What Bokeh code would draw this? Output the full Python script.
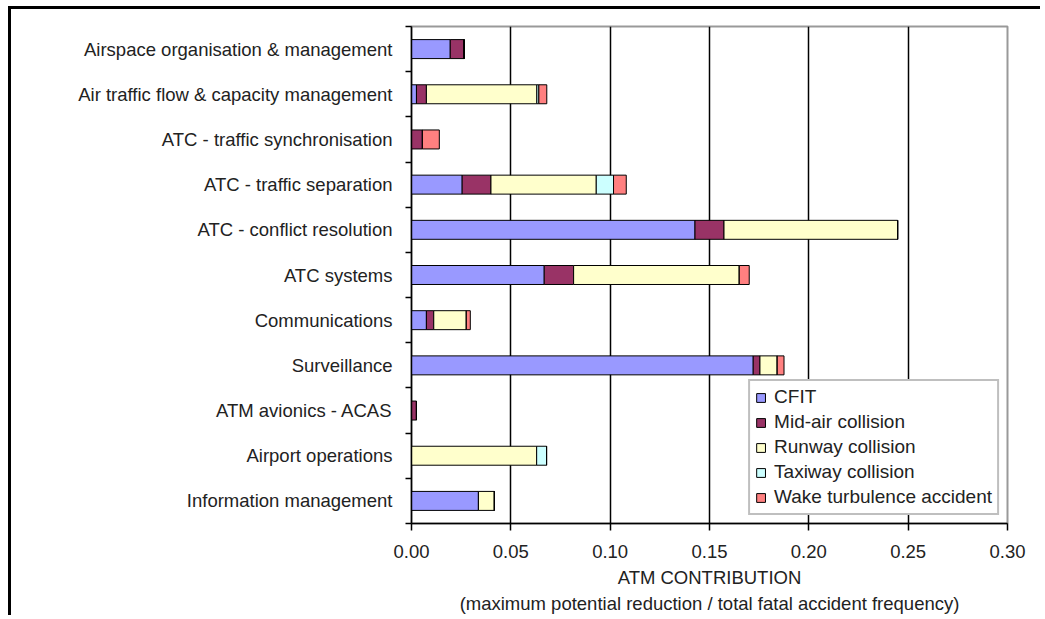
from bokeh.plotting import figure
from bokeh.models import ColumnDataSource, FixedTicker, NumeralTickFormatter, Range1d, Title
from bokeh.embed import file_html
from bokeh.resources import INLINE

categories = [
    "Airspace organisation & management",
    "Air traffic flow & capacity management",
    "ATC - traffic synchronisation",
    "ATC - traffic separation",
    "ATC - conflict resolution",
    "ATC systems",
    "Communications",
    "Surveillance",
    "ATM avionics - ACAS",
    "Airport operations",
    "Information management",
]
cfit = [0.0195, 0.0025, 0.0, 0.0255, 0.1427, 0.0668, 0.0075, 0.1720, 0.0, 0.0, 0.0337]
midair = [0.0070, 0.0050, 0.0055, 0.0145, 0.0146, 0.0148, 0.0037, 0.0034, 0.0025, 0.0, 0.0]
runway = [0.0, 0.0556, 0.0, 0.0530, 0.0874, 0.0834, 0.0164, 0.0087, 0.0, 0.0630, 0.0080]
taxiway = [0.0, 0.0010, 0.0, 0.0087, 0.0, 0.0, 0.0, 0.0, 0.0, 0.0050, 0.0]
wake = [0.0, 0.0040, 0.0085, 0.0064, 0.0, 0.0050, 0.0020, 0.0034, 0.0, 0.0, 0.0]
series = ["CFIT", "Mid-air collision", "Runway collision", "Taxiway collision", "Wake turbulence accident"]
colors = ["#9999FF", "#993366", "#FFFFCC", "#CCFFFF", "#FF8080"]
x_ticks = [0.0, 0.05, 0.10, 0.15, 0.20, 0.25, 0.30]

n = len(categories)
ypos = [n - i for i in range(n)]
source = ColumnDataSource(dict(y=ypos, CFIT=cfit, **{"Mid-air collision": midair,
                                                     "Runway collision": runway,
                                                     "Taxiway collision": taxiway,
                                                     "Wake turbulence accident": wake}))

FONT = "Liberation Sans"
FS = "18.5px"

p = figure(output_backend="svg", toolbar_location=None,
           width=1040, height=615,
           frame_width=596, frame_height=497,
           min_border_left=411, min_border_top=26, min_border_right=33, min_border_bottom=92,
           x_range=Range1d(0, 0.30), y_range=Range1d(0.5, n + 0.5))
p.border_fill_color = None
p.background_fill_color = "white"
p.styles = {"box-shadow": "inset 8px 6px 0 0 white, inset 11px 9px 0 0 black"}
p.outline_line_color = "#999999"
p.outline_line_width = 2

p.hbar_stack(series, y="y", height=0.42, color=colors, line_color="black", line_width=1,
             source=source, legend_label=series)

# x axis
p.xaxis.ticker = FixedTicker(ticks=x_ticks, minor_ticks=[])
p.xaxis.formatter = NumeralTickFormatter(format="0.00")
p.xaxis.major_tick_out = 7
p.xaxis.major_tick_in = 0
p.xaxis.minor_tick_line_color = None
p.xaxis.axis_line_color = "black"
p.xaxis.axis_line_width = 1.5
p.xaxis.major_tick_line_width = 1.5
p.xaxis.major_label_text_font = FONT
p.xaxis.major_label_text_font_size = FS
p.xaxis.major_label_text_color = "#222222"
p.xaxis.major_label_standoff = 14
p.xaxis.axis_label = "ATM CONTRIBUTION"
p.xaxis.axis_label_text_font = FONT
p.xaxis.axis_label_text_font_size = FS
p.xaxis.axis_label_text_font_style = "normal"
p.xaxis.axis_label_text_color = "#222222"
p.xaxis.axis_label_standoff = 6

sub = Title(text="(maximum potential reduction / total fatal accident frequency)", align="center",
            text_font=FONT, text_font_size=FS, text_font_style="normal", text_color="#222222",
            standoff=0, offset=0)
p.add_layout(sub, "below")

p.xgrid.ticker = FixedTicker(ticks=[0.05, 0.10, 0.15, 0.20, 0.25])
p.xgrid.grid_line_color = "black"
p.xgrid.grid_line_width = 1.5
p.ygrid.grid_line_color = None

# y axis
p.yaxis.ticker = FixedTicker(ticks=ypos, minor_ticks=[k + 0.5 for k in range(n + 1)])
p.yaxis.major_label_overrides = {y: c for y, c in zip(ypos, categories)}
p.yaxis.major_tick_line_color = None
p.yaxis.minor_tick_out = 6
p.yaxis.minor_tick_in = 0
p.yaxis.minor_tick_line_color = "black"
p.yaxis.minor_tick_line_width = 1.5
p.yaxis.axis_line_color = "black"
p.yaxis.axis_line_width = 1.5
p.yaxis.major_label_text_font = FONT
p.yaxis.major_label_text_font_size = FS
p.yaxis.major_label_text_color = "#222222"
p.yaxis.major_label_standoff = 13

# legend
lg = p.legend[0]
lg.location = "bottom_right"
lg.margin = 8
lg.padding = 5
lg.spacing = 3
lg.label_height = 21
lg.glyph_width = 11
lg.glyph_height = 11
lg.label_standoff = 8
lg.label_text_font = FONT
lg.label_text_font_size = "19px"
lg.label_text_color = "#222222"
lg.border_line_color = "#808080"
lg.border_line_width = 2
lg.background_fill_color = "white"
lg.background_fill_alpha = 1.0

open("out.html", "w").write(file_html(p, INLINE))
